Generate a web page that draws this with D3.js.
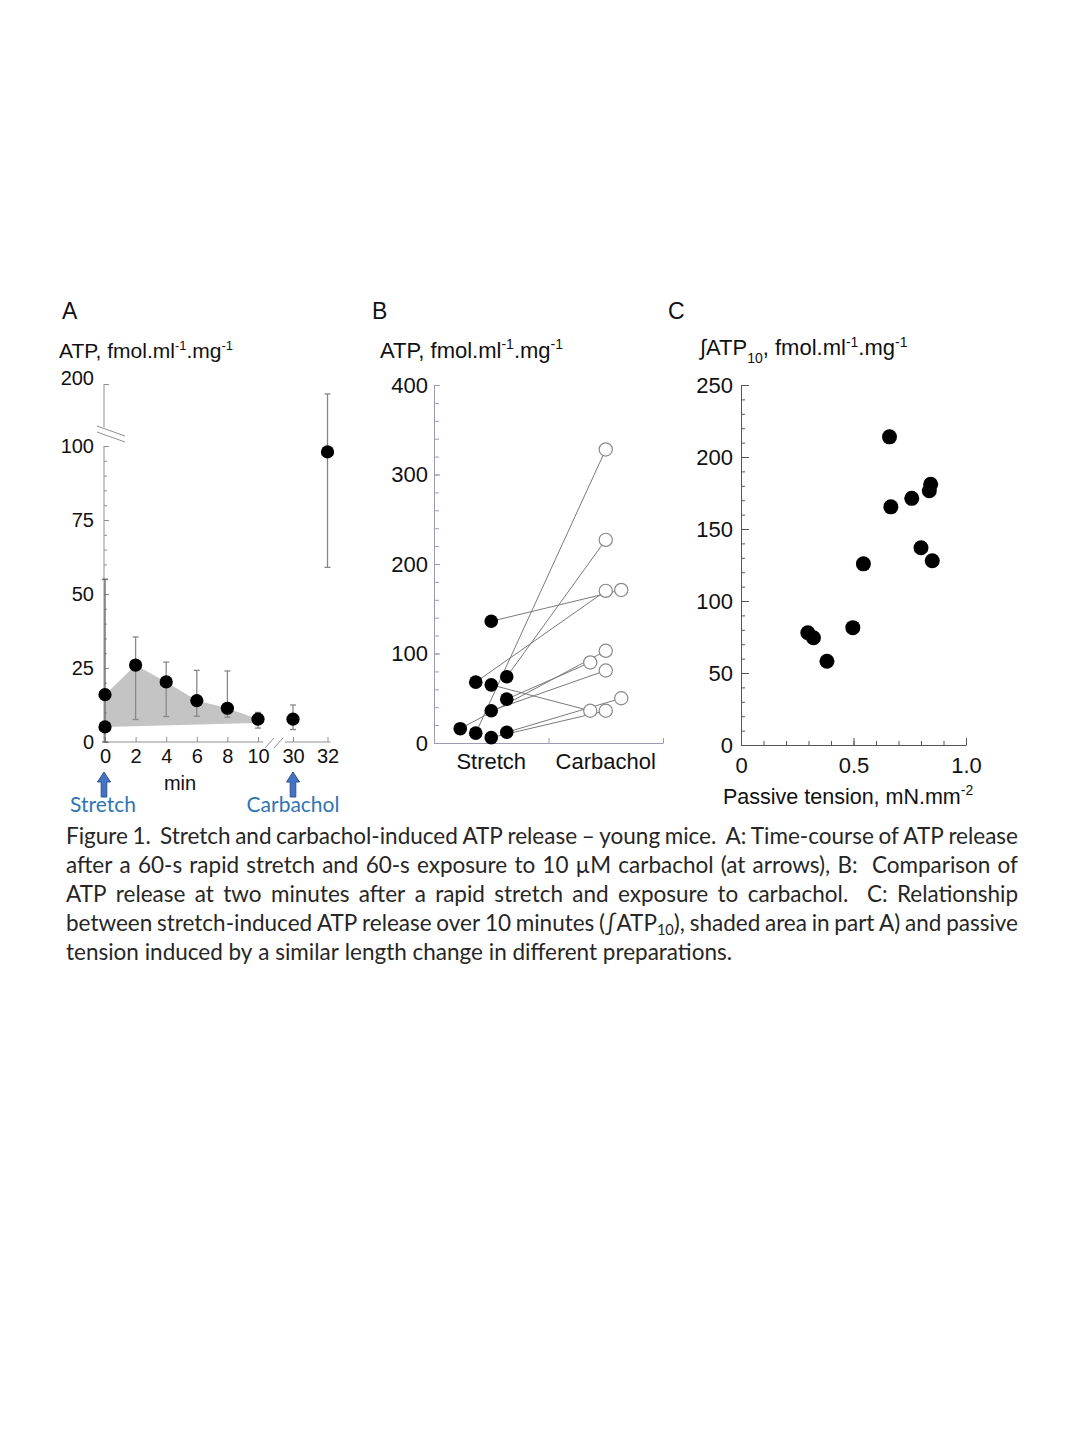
<!DOCTYPE html>
<html>
<head>
<meta charset="utf-8">
<script src="https://cdn.jsdelivr.net/npm/d3@7"></script>
<style>
	body { margin: 0; background: #fff; }
</style>
</head>
<body>
<script>
// Panel A: time course of ATP release (mean, upper and lower end of error bar)
const timesA = [0, 2, 4, 6, 8, 10, 30, 32];
const meanA = [16, 26, 20.3, 14, 11.4, 7.7, 7.7, 98];
const upperA = [55, 35.5, 27, 24.2, 24, 10, 12.5, 184];
const lowerA = [0, 7.6, 8.6, 8.7, 8.4, 4.7, 4.2, 59];
const baseA = 5.1; // value before the stretch, t = 0
const shadeBottomA = [5.1, 6.4]; // lower edge of shaded area at t = 0 and t = 10
const xTicksLeftA = [0, 2, 4, 6, 8, 10];
const xTicksRightA = [30, 32];
const yTicksA = [0, 25, 50, 75, 100, 200];

// Panel B: paired values, stretch -> carbachol
const groupsB = ['Stretch', 'Carbachol'];
const stretchB = [136, 68, 65, 74, 49, 36, 16, 11, 6, 12];
const carbacholB = [171, 170, 36, 227, 90, 81, 103, 328, 36, 50];
const stretchSlotB = [0, -1, 0, 1, 1, 0, -2, -1, 0, 1]; // side-by-side column of each marker
const carbacholSlotB = [1, 0, -1, 0, -1, 0, 0, 0, 0, 1];
const yTicksB = [0, 100, 200, 300, 400];

// Panel C: integrated ATP vs passive tension
const tensionC = [0.66, 0.666, 0.759, 0.843, 0.837, 0.8, 0.85, 0.544, 0.497, 0.297, 0.322, 0.382];
const atpC = [214, 165.4, 171.3, 181, 176.6, 137, 128, 125.8, 81.5, 78, 74.5, 58.2];
const yTicksC = [0, 50, 100, 150, 200, 250];
const xTicksC = [0, 0.5, 1];

const captionLines = [
	'Figure 1.  Stretch and carbachol-induced ATP release \u2013 young mice.  A: Time-course of ATP release',
	'after a 60-s rapid stretch and 60-s exposure to 10 \u00b5M carbachol (at arrows), B:  Comparison of',
	'ATP release at two minutes after a rapid stretch and exposure to carbachol.  C: Relationship',
	'between stretch-induced ATP release over 10 minutes (\u222bATP_10_), shaded area in part A) and passive',
	'tension induced by a similar length change in different preparations.'
];

const FONT = '"Liberation Sans", Arial, sans-serif';
const CAP_FONT = 'Lato, "Open Sans", sans-serif';

const svg = d3.select('body').append('svg').attr('width', 1080).attr('height', 1440);

// text with superscript / subscript parts
function richText(g, x, y, parts, size, small, shift) {
	const t = g.append('text').attr('x', x).attr('y', y)
		.attr('font-family', FONT).attr('font-size', size).attr('fill', '#111');
	let off = 0;
	parts.forEach((p) => {
		const target = p.sup ? -shift : p.sub ? shift : 0;
		const ts = t.append('tspan').text(p.t).attr('dy', target - off);
		if (p.sup || p.sub) ts.attr('font-size', small);
		off = target;
	});
	return t;
}

function styleAxis(g, colour, size) {
	g.attr('font-family', FONT).attr('font-size', size);
	g.selectAll('line').attr('stroke', colour);
	g.selectAll('.domain').attr('stroke', colour);
	g.selectAll('text').attr('fill', '#111');
}

const unitsParts = [{t: 'ATP, fmol.ml'}, {t: '-1', sup: true}, {t: '.mg'}, {t: '-1', sup: true}];

// ---------- Panel A ----------
const gA = svg.append('g');
const xL = d3.scaleLinear().domain([0, 10]).range([105, 258]);
const xR = d3.scaleLinear().domain([30, 32]).range([293, 327.5]);
const xA = (t) => (t <= 10 ? xL(t) : xR(t));
const yA = d3.scaleLinear().domain([0, 100, 200]).range([742, 446, 384]);
const axisColA = '#8f8f8f';

// shaded area under the stretch response
const shade = timesA.filter((t) => t <= 10).map((t, i) => [xA(t), yA(meanA[i])]);
shade.push([xL(10), yA(shadeBottomA[1])], [xL(0), yA(shadeBottomA[0])]);
gA.append('path').attr('d', d3.line()(shade) + 'Z').attr('fill', '#c4c4c4');

// y axis (broken)
const axX = xL(0) - 1;
gA.append('g').attr('transform', `translate(${axX},0)`)
	.call(d3.axisLeft(yA).tickValues(d3.range(0, 101, 5)).tickSize(-3).tickFormat(''))
	.call((g) => g.select('.domain').remove())
	.call((g) => styleAxis(g, axisColA, 20));
gA.append('g').attr('transform', `translate(${axX},0)`)
	.call(d3.axisLeft(yA).tickValues(yTicksA).tickSize(-5).tickPadding(10))
	.call((g) => g.select('.domain').remove())
	.call((g) => styleAxis(g, axisColA, 20))
	.call((g) => g.selectAll('.tick text').filter((d) => d === 200).attr('dy', '0.0em'));
gA.append('line').attr('x1', axX).attr('x2', axX).attr('y1', yA(0)).attr('y2', yA(100)).attr('stroke', axisColA);
gA.append('line').attr('x1', axX).attr('x2', axX).attr('y1', yA(130)).attr('y2', yA(200)).attr('stroke', axisColA);
[0, 6].forEach((o) => {
	gA.append('line')
		.attr('x1', axX - 7).attr('y1', yA(100) - 20 + o)
		.attr('x2', axX + 21).attr('y2', yA(100) - 10 + o)
		.attr('stroke', axisColA);
});

// x axis (broken)
[[xL, xTicksLeftA], [xR, xTicksRightA]].forEach(([sc, ticks]) => {
	gA.append('g').attr('transform', `translate(0,${yA(0)})`)
		.call(d3.axisBottom(sc).tickValues(ticks).tickSize(-5).tickPadding(7).tickFormat(d3.format('d')))
		.call((g) => g.select('.domain').remove())
		.call((g) => styleAxis(g, axisColA, 20));
});
gA.append('line').attr('x1', axX).attr('x2', xL(10) + 5).attr('y1', yA(0)).attr('y2', yA(0)).attr('stroke', axisColA);
gA.append('line').attr('x1', xR(30) - 8).attr('x2', xR(32) + 3).attr('y1', yA(0)).attr('y2', yA(0)).attr('stroke', axisColA);
[0, 9].forEach((o) => {
	gA.append('line')
		.attr('x1', xL(10) + 7 + o).attr('y1', yA(0) + 6)
		.attr('x2', xL(10) + 16 + o).attr('y2', yA(0) - 4)
		.attr('stroke', axisColA);
});

// error bars
timesA.forEach((t, i) => {
	const x = xA(t);
	const col = t === 0 ? '#666' : '#888';
	gA.append('line').attr('x1', x).attr('x2', x)
		.attr('y1', yA(lowerA[i])).attr('y2', yA(upperA[i]))
		.attr('stroke', col).attr('stroke-width', 1.3);
	[lowerA[i], upperA[i]].forEach((v) => {
		gA.append('line').attr('x1', x - 3).attr('x2', x + 3)
			.attr('y1', yA(v)).attr('y2', yA(v))
			.attr('stroke', col).attr('stroke-width', 1.3);
	});
});

// points
gA.selectAll('circle.mean')
	.data(timesA)
	.enter()
	.append('circle')
	.attr('cx', (t) => xA(t))
	.attr('cy', (t, i) => yA(meanA[i]))
	.attr('r', 6.6)
	.attr('fill', '#000');
gA.append('circle').attr('cx', xA(0)).attr('cy', yA(baseA)).attr('r', 6.6).attr('fill', '#000');

// arrows and labels under the axis
function blockArrow(cx, top, bottom) {
	const hw = 6.5, sw = 2.8, hh = 10;
	return `M${cx},${top}L${cx + hw},${top + hh}L${cx + sw},${top + hh}L${cx + sw},${bottom}` +
		`L${cx - sw},${bottom}L${cx - sw},${top + hh}L${cx - hw},${top + hh}Z`;
}
[xL(0) - 1, xR(30)].forEach((x) => {
	gA.append('path').attr('d', blockArrow(x, 772, 797))
		.attr('fill', '#4472c4').attr('stroke', '#2f528f').attr('stroke-width', 1);
});
gA.append('text').attr('x', 180).attr('y', 790).attr('text-anchor', 'middle')
	.attr('font-family', FONT).attr('font-size', 20).attr('fill', '#111').text('min');
[['Stretch', xL(0) - 2], ['Carbachol', xR(30)]].forEach(([label, x]) => {
	gA.append('text').attr('x', x).attr('y', 812).attr('text-anchor', 'middle')
		.attr('font-family', CAP_FONT).attr('font-size', 21).attr('fill', '#2e75b6').text(label);
});

richText(gA, 59, 358, unitsParts, 21, 13, 8);
gA.append('text').attr('x', 62).attr('y', 319).attr('font-family', FONT).attr('font-size', 23).attr('fill', '#111').text('A');

// ---------- Panel B ----------
const gB = svg.append('g');
const xB = d3.scaleLinear().domain([0, 2]).range([434, 663]);
const yB = d3.scaleLinear().domain([0, 400]).range([743, 385]);
const slotW = 15.5;
const axisColB = '#9c9cb8';

gB.append('g').attr('transform', `translate(${xB(0)},0)`)
	.call(d3.axisLeft(yB).tickValues(d3.range(0, 401, 20)).tickSize(-5).tickFormat(''))
	.call((g) => g.select('.domain').remove())
	.call((g) => styleAxis(g, axisColB, 22));
gB.append('g').attr('transform', `translate(${xB(0)},0)`)
	.call(d3.axisLeft(yB).tickValues(yTicksB).tickSize(-6).tickSizeOuter(0).tickPadding(6))
	.call((g) => styleAxis(g, axisColB, 22));
gB.append('g').attr('transform', `translate(0,${yB(0)})`)
	.call(d3.axisBottom(xB).tickValues([1, 2]).tickSize(-5).tickSizeOuter(0).tickFormat(''))
	.call((g) => styleAxis(g, axisColB, 22));
groupsB.forEach((name, i) => {
	gB.append('text').attr('x', xB(i + 0.5)).attr('y', 769).attr('text-anchor', 'middle')
		.attr('font-family', FONT).attr('font-size', 22).attr('fill', '#111').text(name);
});

const sx = (i) => xB(0.5) + stretchSlotB[i] * slotW;
const cx = (i) => xB(1.5) + carbacholSlotB[i] * slotW;
gB.selectAll('line.pair')
	.data(stretchB)
	.enter()
	.append('line')
	.attr('x1', (d, i) => sx(i))
	.attr('y1', (d) => yB(d))
	.attr('x2', (d, i) => cx(i))
	.attr('y2', (d, i) => yB(carbacholB[i]))
	.attr('stroke', '#7a7a7a')
	.attr('stroke-width', 1);
gB.selectAll('circle.carb')
	.data(carbacholB)
	.enter()
	.append('circle')
	.attr('cx', (d, i) => cx(i))
	.attr('cy', (d) => yB(d))
	.attr('r', 6.6)
	.attr('fill', '#fff')
	.attr('stroke', '#8a8a8a')
	.attr('stroke-width', 1.2);
gB.selectAll('circle.stretch')
	.data(stretchB)
	.enter()
	.append('circle')
	.attr('cx', (d, i) => sx(i))
	.attr('cy', (d) => yB(d))
	.attr('r', 6.8)
	.attr('fill', '#000');

richText(gB, 380, 358, unitsParts, 22, 14, 9);
gB.append('text').attr('x', 372).attr('y', 319).attr('font-family', FONT).attr('font-size', 23).attr('fill', '#111').text('B');

// ---------- Panel C ----------
const gC = svg.append('g');
const xC = d3.scaleLinear().domain([0, 1]).range([741, 966]);
const yC = d3.scaleLinear().domain([0, 250]).range([745, 385]);
const axisColC = '#555';

gC.append('g').attr('transform', `translate(${xC(0)},0)`)
	.call(d3.axisLeft(yC).tickValues(d3.range(0, 251, 10)).tickSize(-4).tickFormat(''))
	.call((g) => g.select('.domain').remove())
	.call((g) => styleAxis(g, axisColC, 22));
gC.append('g').attr('transform', `translate(${xC(0)},0)`)
	.call(d3.axisLeft(yC).tickValues(yTicksC).tickSize(-8).tickSizeOuter(0).tickPadding(8))
	.call((g) => styleAxis(g, axisColC, 22));
gC.append('g').attr('transform', `translate(0,${yC(0)})`)
	.call(d3.axisBottom(xC).tickValues(d3.range(0, 11).map((d) => d / 10)).tickSize(-4).tickFormat(''))
	.call((g) => g.select('.domain').remove())
	.call((g) => styleAxis(g, axisColC, 22));
gC.append('g').attr('transform', `translate(0,${yC(0)})`)
	.call(d3.axisBottom(xC).tickValues(xTicksC).tickSize(-7).tickSizeOuter(0).tickPadding(12)
		.tickFormat((d) => (d === 0 ? '0' : d3.format('.1f')(d))))
	.call((g) => styleAxis(g, axisColC, 22));

gC.selectAll('circle')
	.data(tensionC)
	.enter()
	.append('circle')
	.attr('cx', (d) => xC(d))
	.attr('cy', (d, i) => yC(atpC[i]))
	.attr('r', 7.5)
	.attr('fill', '#000');

richText(gC, 700, 355,
	[{t: '\u222bATP'}, {t: '10', sub: true}, {t: ', fmol.ml'}, {t: '-1', sup: true}, {t: '.mg'}, {t: '-1', sup: true}],
	22, 14, 8);
richText(gC, 723, 804, [{t: 'Passive tension, mN.mm'}, {t: '-2', sup: true}], 21.5, 14, 9);
gC.append('text').attr('x', 668).attr('y', 319).attr('font-family', FONT).attr('font-size', 23).attr('fill', '#111').text('C');

// ---------- Caption (justified) ----------
const capX0 = 66, capX1 = 1018, capY0 = 844, capDy = 29;
const cap = svg.append('g').attr('font-family', CAP_FONT).attr('fill', '#262626');

function capWord(tok, y, size) {
	const t = cap.append('text').attr('y', y).attr('font-size', size);
	tok.split('_').forEach((part, k) => {
		if (!part) return;
		const ts = t.append('tspan').text(part);
		if (k % 2 === 1) ts.attr('font-size', size * 0.65).attr('dy', 4);
		else if (k > 0) ts.attr('dy', -4);
	});
	return t;
}

// pick a size that leaves room for word gaps on the longest line
let capSize = 23;
for (; capSize > 14; capSize -= 0.25) {
	const worst = d3.max(captionLines.slice(0, 4), (line) => {
		const toks = line.split(' ');
		const w = d3.sum(toks.filter(Boolean), (tok) => {
			const t = capWord(tok, -100, capSize);
			const len = t.node().getComputedTextLength();
			t.remove();
			return len;
		});
		return w + (toks.length - 1) * capSize * 0.2;
	});
	if (worst <= capX1 - capX0) break;
}
const spaceT = cap.append('text').attr('font-size', capSize).text('a a');
const noSpaceT = cap.append('text').attr('font-size', capSize).text('aa');
const spaceW = spaceT.node().getComputedTextLength() - noSpaceT.node().getComputedTextLength();
spaceT.remove();
noSpaceT.remove();

captionLines.forEach((line, i) => {
	const y = capY0 + i * capDy;
	const toks = line.split(' ');
	const words = toks.map((tok) => {
		if (!tok) return null;
		const t = capWord(tok, y, capSize);
		return {node: t, w: t.node().getComputedTextLength()};
	});
	const total = d3.sum(words.filter(Boolean), (d) => d.w);
	const justify = i < captionLines.length - 1;
	const gap = justify ? (capX1 - capX0 - total) / (toks.length - 1) : spaceW;
	let x = capX0;
	toks.forEach((tok, j) => {
		if (words[j]) {
			words[j].node.attr('x', x);
			x += words[j].w;
		}
		x += gap;
	});
});
</script>
</body>
</html>
